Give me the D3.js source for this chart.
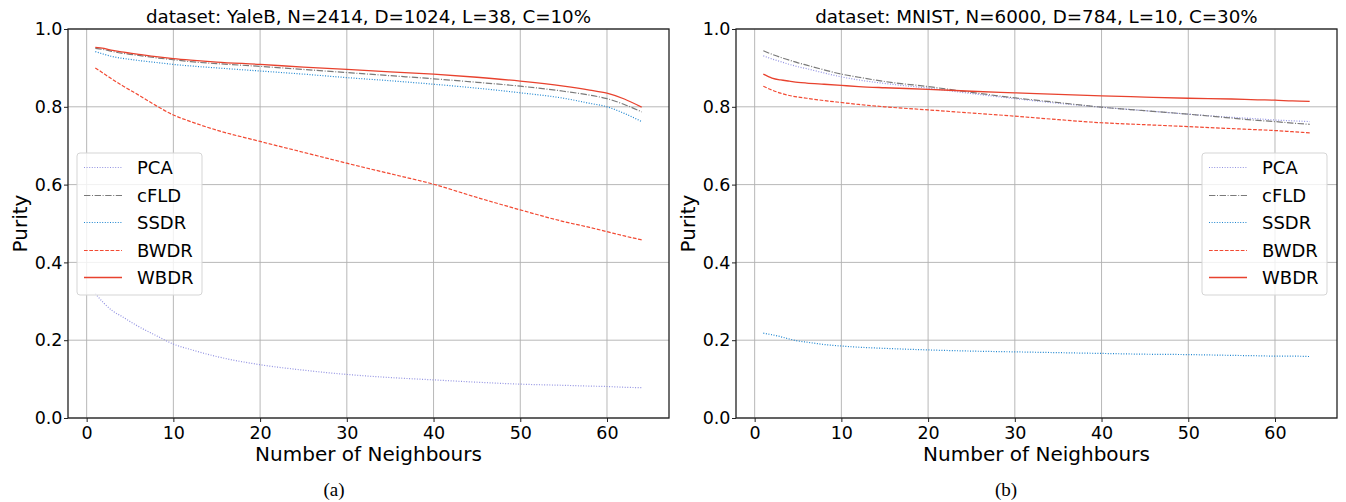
<!DOCTYPE html>
<html>
<head>
<meta charset="utf-8">
<script src="https://cdn.jsdelivr.net/npm/d3@7"></script>
<style>
  body { margin: 0; background: #fff; }
  text { font-family: "DejaVu Sans", sans-serif; }
</style>
</head>
<body>
<script>
const W = 1346, H = 502

// data
const neighbours = [1, 2, 3, 4, 5, 6, 8, 10, 12, 15, 20, 25, 30, 35, 40, 45, 50, 55, 58, 60, 62, 64]
const methods = ['PCA', 'cFLD', 'SSDR', 'BWDR', 'WBDR']
const xTicks = [0, 10, 20, 30, 40, 50, 60]
const yTicks = [0.0, 0.2, 0.4, 0.6, 0.8, 1.0]

const yalePCA  = [.320, .295, .275, .262, .248, .235, .212, .190, .176, .158, .137, .123, .112, .104, .098, .092, .087, .084, .082, .081, .079, .078]
const yaleCFLD = [.950, .947, .942, .938, .935, .932, .926, .921, .916, .911, .904, .896, .888, .880, .872, .863, .853, .840, .830, .821, .806, .787]
const yaleSSDR = [.942, .935, .929, .925, .922, .919, .914, .909, .905, .900, .892, .884, .875, .867, .858, .848, .836, .822, .809, .800, .783, .762]
const yaleBWDR = [.900, .885, .870, .856, .843, .830, .803, .779, .762, .740, .711, .683, .655, .628, .601, .567, .535, .505, .490, .479, .468, .458]
const yaleWBDR = [.953, .950, .945, .941, .938, .935, .929, .924, .920, .915, .909, .902, .896, .890, .884, .876, .866, .853, .843, .835, .820, .799]

const mnistPCA  = [.931, .923, .916, .909, .903, .898, .887, .877, .869, .860, .848, .834, .821, .809, .799, .790, .781, .773, .769, .766, .764, .762]
const mnistCFLD = [.944, .935, .927, .920, .913, .907, .895, .884, .876, .865, .852, .837, .823, .811, .799, .790, .781, .771, .765, .762, .758, .755]
const mnistSSDR = [.218, .214, .209, .203, .198, .195, .189, .185, .182, .179, .175, .172, .170, .168, .166, .164, .163, .161, .160, .159, .159, .158]
const mnistBWDR = [.853, .843, .835, .829, .825, .822, .816, .811, .806, .800, .792, .784, .776, .767, .759, .754, .749, .744, .741, .739, .736, .733]
const mnistWBDR = [.884, .874, .869, .866, .863, .861, .858, .855, .852, .849, .845, .840, .836, .832, .828, .825, .822, .820, .818, .817, .815, .814]

const styles = {
  PCA:  {color: '#9393e2', dash: '1,1.6', width: 1.2},
  cFLD: {color: '#7a7a7a', dash: '6.4,1.6,1,1.6', width: 1.2},
  SSDR: {color: '#1f86d0', dash: '1,1.6', width: 1.2},
  BWDR: {color: '#f24a33', dash: '3.7,1.6', width: 1.2},
  WBDR: {color: '#e8422e', dash: null, width: 1.3}
}

const panels = [
  {title: 'dataset: YaleB, N=2414, D=1024, L=38, C=10%', tag: '(a)', left: 68, right: 669, tagX: 334,
   series: [yalePCA, yaleCFLD, yaleSSDR, yaleBWDR, yaleWBDR], legendX: 77},
  {title: 'dataset: MNIST, N=6000, D=784, L=10, C=30%', tag: '(b)', left: 736, right: 1337, tagX: 1006,
   series: [mnistPCA, mnistCFLD, mnistSSDR, mnistBWDR, mnistWBDR], legendX: 1202}
]
const plotTop = 29, plotBottom = 418

let svg = d3.select('body').append('svg').attr('width', W).attr('height', H)

panels.forEach(p => {
  let x = d3.scaleLinear().domain([-2.15, 67.15]).range([p.left, p.right])
  let y = d3.scaleLinear().domain([0, 1]).range([plotBottom, plotTop])
  let g = svg.append('g')

  // grid
  g.append('g').selectAll('line').data(xTicks).enter().append('line')
    .attr('x1', d => x(d)).attr('x2', d => x(d)).attr('y1', plotTop).attr('y2', plotBottom)
    .attr('stroke', '#b0b0b0').attr('stroke-width', 0.9)
  g.append('g').selectAll('line').data(yTicks).enter().append('line')
    .attr('x1', p.left).attr('x2', p.right).attr('y1', d => y(d)).attr('y2', d => y(d))
    .attr('stroke', '#b0b0b0').attr('stroke-width', 0.9)

  // lines
  let line = d3.line().x((d, i) => x(neighbours[i])).y(d => y(d)).curve(d3.curveMonotoneX)
  methods.forEach((m, k) => {
    let s = styles[m]
    g.append('path').datum(p.series[k])
      .attr('d', line)
      .attr('fill', 'none')
      .attr('stroke', s.color)
      .attr('stroke-width', s.width)
      .attr('stroke-dasharray', s.dash)
  })

  // frame
  g.append('rect').attr('x', p.left).attr('y', plotTop).attr('width', p.right - p.left).attr('height', plotBottom - plotTop)
    .attr('fill', 'none').attr('stroke', '#222').attr('stroke-width', 1.3)

  // axes
  let gx = g.append('g').attr('transform', `translate(0, ${plotBottom})`)
    .call(d3.axisBottom(x).tickValues(xTicks).tickSize(4).tickPadding(5).tickFormat(d3.format('d')))
  let gy = g.append('g').attr('transform', `translate(${p.left}, 0)`)
    .call(d3.axisLeft(y).tickValues(yTicks).tickSize(4).tickPadding(1.5).tickFormat(d3.format('.1f')))
  ;[gx, gy].forEach(a => {
    a.select('.domain').remove()
    a.selectAll('text').attr('font-size', 17.5).attr('font-family', 'DejaVu Sans').attr('fill', '#000')
    a.selectAll('line').attr('stroke', '#222')
  })

  // titles
  g.append('text').attr('x', (p.left + p.right) / 2).attr('y', 23).attr('text-anchor', 'middle')
    .attr('font-size', 18.3).text(p.title)
  g.append('text').attr('x', (p.left + p.right) / 2).attr('y', 461).attr('text-anchor', 'middle')
    .attr('font-size', 20).text('Number of Neighbours')
  g.append('text').attr('transform', `translate(${p.left - 41}, ${(plotTop + plotBottom) / 2}) rotate(-90)`)
    .attr('text-anchor', 'middle').attr('font-size', 20).text('Purity')
  g.append('text').attr('x', p.tagX).attr('y', 496).attr('text-anchor', 'middle')
    .style('font-family', '"Liberation Serif", serif')
    .attr('font-size', 19).text(p.tag)

  // legend
  let lg = g.append('g').attr('transform', `translate(${p.legendX}, 153)`)
  lg.append('rect').attr('width', 125).attr('height', 142).attr('rx', 3)
    .attr('fill', 'white').attr('fill-opacity', 0.8).attr('stroke', '#d5d5d5')
  methods.forEach((m, k) => {
    let s = styles[m]
    let cy = Math.round(14 + k * 27.5) + 0.5
    lg.append('line').attr('x1', 7).attr('x2', 45).attr('y1', cy).attr('y2', cy)
      .attr('stroke', s.color).attr('stroke-width', s.width).attr('stroke-dasharray', s.dash)
    lg.append('text').attr('x', 60).attr('y', cy).attr('dy', '0.36em').attr('font-size', 18).text(m)
  })
})
</script>
</body>
</html>
